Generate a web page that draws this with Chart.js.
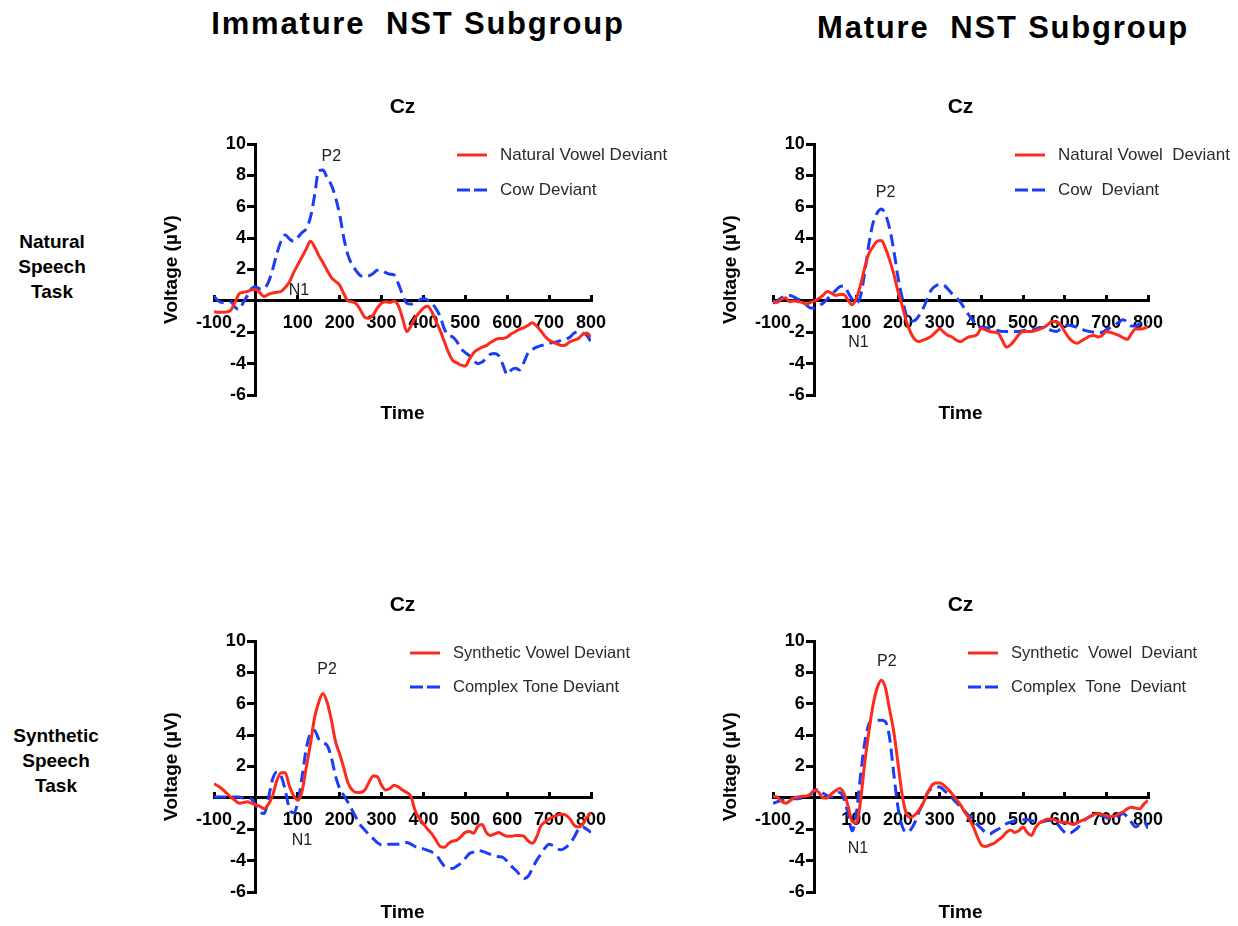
<!DOCTYPE html>
<html>
<head>
<meta charset="utf-8">
<script src="https://cdn.jsdelivr.net/npm/chart.js@4.4.1/dist/chart.umd.min.js"></script>
<style>
body { margin: 0; background: #fff; width: 1238px; height: 926px; position: relative; overflow: hidden;
       font-family: "Liberation Sans", Arial, Helvetica, sans-serif; }
canvas { position: absolute; }
.head { position: absolute; font-weight: bold; font-size: 31px; line-height: 31px; white-space: pre;
        text-align: center; width: 600px; letter-spacing: 1.8px; color: #000; }
.row { position: absolute; font-weight: bold; font-size: 19px; line-height: 25px; text-align: center;
       width: 120px; color: #000; }
</style>
</head>
<body>
<div class="head" style="left:118px;top:8px">Immature  NST Subgroup</div>
<div class="head" style="left:703px;top:12px">Mature  NST Subgroup</div>
<div class="row" style="left:-8px;top:229px">Natural<br>Speech<br>Task</div>
<div class="row" style="left:-4px;top:723px">Synthetic<br>Speech<br>Task</div>

<canvas id="immNat" width="590" height="370" style="left:110px;top:70px"></canvas>
<canvas id="matNat" width="538" height="370" style="left:700px;top:70px"></canvas>
<canvas id="immSyn" width="590" height="356" style="left:110px;top:570px"></canvas>
<canvas id="matSyn" width="538" height="356" style="left:700px;top:570px"></canvas>

<script>
// time base in ms, shared by every trace
var times = [
    -100, -90, -80, -70, -60, -50, -40, -30, -20, -10,
    0, 10, 20, 30, 40, 50, 60, 70, 80, 90,
    100, 110, 120, 130, 140, 150, 160, 170, 180, 190,
    200, 210, 220, 230, 240, 250, 260, 270, 280, 290,
    300, 310, 320, 330, 340, 350, 360, 370, 380, 390,
    400, 410, 420, 430, 440, 450, 460, 470, 480, 490,
    500, 510, 520, 530, 540, 550, 560, 570, 580, 590,
    600, 610, 620, 630, 640, 650, 660, 670, 680, 690,
    700, 710, 720, 730, 740, 750, 760, 770, 780, 790,
    800
];

// Natural speech task, immature subgroup (uV)
var natVowelImm = [
    -0.7, -0.72, -0.72, -0.7, -0.6, -0.1, 0.45, 0.55, 0.6, 0.7,
    0.72, 0.5, 0.28, 0.42, 0.5, 0.55, 0.6, 0.85, 1.2, 1.8,
    2.3, 2.8, 3.3, 3.8, 3.45, 2.9, 2.45, 1.95, 1.5, 1.25,
    1.0, 0.45, 0.0, -0.05, -0.2, -0.6, -1.05, -1.1, -0.9, -0.45,
    -0.15, -0.05, -0.1, 0.0, -0.3, -1.1, -1.95, -1.6, -1.1, -0.75,
    -0.45, -0.35, -0.7, -1.3, -1.9, -2.6, -3.3, -3.8, -3.95, -4.1,
    -4.15, -3.7, -3.3, -3.1, -2.95, -2.85, -2.65, -2.5, -2.4, -2.4,
    -2.3, -2.1, -1.95, -1.8, -1.7, -1.55, -1.4, -1.6, -1.9, -2.25,
    -2.5, -2.65, -2.75, -2.85, -2.8, -2.6, -2.5, -2.4, -2.15, -2.05,
    -2.3
];
var cowImm = [
    0.3, 0.0, -0.1, -0.05, -0.05, -0.4, -0.55, -0.1, 0.35, 0.8,
    0.9, 0.75, 0.8, 1.2, 2.0, 3.0, 3.8, 4.2, 3.95, 3.8,
    4.05, 4.35, 4.6, 5.3, 6.7, 8.3, 8.35, 7.85, 7.4, 6.6,
    5.5, 4.0, 2.9, 2.3, 1.9, 1.6, 1.55, 1.6, 1.75, 1.95,
    1.95, 1.8, 1.7, 1.65, 1.1, 0.4, -0.15, -0.2, -0.1, 0.05,
    0.15, 0.05, -0.15, -0.5, -1.0, -1.8, -2.2, -2.3, -2.6, -3.05,
    -3.3, -3.5, -3.8, -4.0, -3.9, -3.65, -3.4, -3.35, -3.5, -4.1,
    -4.7, -4.4, -4.3, -4.4, -3.9, -3.3, -3.1, -2.95, -2.85, -2.8,
    -2.7, -2.65, -2.6, -2.5, -2.45, -2.3, -2.05, -2.0, -2.05, -2.2,
    -2.6
];

// Natural speech task, mature subgroup
var natVowelMat = [
    0.0, -0.1, 0.1, 0.2, -0.05, 0.0, -0.05, -0.1, -0.2, -0.1,
    0.0, 0.15, 0.35, 0.6, 0.5, 0.35, 0.4, 0.4, 0.05, -0.25,
    0.15, 1.0, 2.1, 3.0, 3.45, 3.8, 3.85, 3.35, 2.6, 1.7,
    0.6, -0.3, -1.3, -2.0, -2.45, -2.6, -2.5, -2.4, -2.25, -2.0,
    -1.8, -2.0, -2.2, -2.3, -2.5, -2.6, -2.45, -2.3, -2.25, -2.15,
    -1.75, -1.85, -1.95, -2.0, -2.05, -2.5, -2.95, -2.8, -2.5, -2.15,
    -1.95, -1.95, -1.95, -1.9, -1.8, -1.7, -1.5, -1.3, -1.35, -1.5,
    -1.95, -2.35, -2.6, -2.7, -2.55, -2.4, -2.25, -2.2, -2.3, -2.2,
    -1.95, -2.0, -2.1, -2.2, -2.35, -2.45, -2.1, -1.8, -1.8, -1.75,
    -1.65
];
var cowMat = [
    -0.15, 0.0, 0.2, 0.3, 0.35, 0.25, 0.1, 0.0, -0.25, -0.45,
    -0.45, -0.3, -0.15, 0.1, 0.4, 0.65, 0.9, 0.95, 0.55, 0.1,
    -0.15, 0.3, 1.8, 3.6, 4.95, 5.6, 5.85, 5.5, 4.6, 3.2,
    1.5, 0.2, -0.9, -1.3, -1.25, -0.95, -0.5, 0.1, 0.7, 0.95,
    1.05, 1.0, 0.75, 0.45, 0.2, -0.1, -0.5, -0.9, -1.25, -1.55,
    -1.7, -1.7, -1.75, -1.8, -1.9, -1.95, -1.95, -1.95, -1.95, -1.95,
    -1.9, -1.85, -1.85, -1.8, -1.7, -1.7, -1.8, -1.9, -1.95, -1.8,
    -1.6, -1.55, -1.6, -1.7, -1.8, -1.9, -1.95, -2.0, -2.05, -2.0,
    -1.85, -1.7, -1.55, -1.35, -1.2, -1.35, -1.6, -1.6, -1.45, -1.35,
    -1.35
];

// Synthetic speech task, immature subgroup
var synVowelImm = [
    0.9, 0.75, 0.55, 0.3, 0.05, -0.15, -0.35, -0.3, -0.25, -0.35,
    -0.45, -0.55, -0.7, -0.4, 0.15, 1.1, 1.6, 1.6, 0.75, 0.15,
    -0.15, 0.4, 1.9, 3.4, 5.1, 6.1, 6.65, 6.1, 5.0, 3.6,
    2.8, 1.9, 0.95, 0.5, 0.35, 0.35, 0.5, 1.0, 1.4, 1.35,
    0.8, 0.5, 0.6, 0.8, 0.7, 0.5, 0.35, 0.1, -0.8, -1.3,
    -1.65, -2.0, -2.3, -2.7, -3.1, -3.15, -2.9, -2.75, -2.7, -2.45,
    -2.2, -2.15, -2.25, -1.8, -1.7, -2.2, -2.4, -2.3, -2.2, -2.35,
    -2.45, -2.45, -2.4, -2.4, -2.45, -2.75, -2.9, -2.5, -1.8, -1.55,
    -1.35, -1.2, -1.1, -1.05, -1.1, -1.35, -1.75, -1.85, -1.7, -1.25,
    -0.95
];
var toneImm = [
    0.05, 0.05, 0.05, 0.05, 0.05, 0.05, 0.05, 0.0, 0.0, -0.1,
    -0.5, -0.9, -1.0, 0.0, 1.2, 1.65, 1.4, 0.5, -0.7, -0.95,
    -0.3, 1.3, 3.1, 4.1, 4.3, 3.75, 3.5, 3.35, 2.6, 1.4,
    0.6, 0.15, -0.3, -0.8, -1.3, -1.75, -2.05, -2.35, -2.6, -2.85,
    -3.0, -3.0, -2.95, -2.95, -2.95, -2.9, -2.85, -2.95, -3.1, -3.2,
    -3.25, -3.35, -3.45, -3.6, -4.0, -4.35, -4.45, -4.5, -4.35, -4.15,
    -3.85, -3.55, -3.45, -3.35, -3.4, -3.5, -3.6, -3.7, -3.75, -3.8,
    -4.05, -4.35, -4.6, -4.9, -5.15, -5.0, -4.5, -4.0, -3.6, -3.2,
    -2.95, -3.05, -3.25, -3.3, -3.15, -2.9, -2.5, -2.0, -1.85, -2.0,
    -2.2
];

// Synthetic speech task, mature subgroup
var synVowelMat = [
    0.1, 0.05, -0.2, -0.35, -0.2, 0.0, 0.05, 0.1, 0.1, 0.25,
    0.5, 0.35, 0.0, 0.0, 0.25, 0.45, 0.6, 0.3, -0.5, -1.5,
    -1.6, -0.2, 2.2, 4.2, 5.9, 7.0, 7.5, 7.0, 5.6, 4.2,
    2.2, 0.2, -1.0, -1.25, -1.1, -0.8, -0.35, 0.25, 0.75, 0.95,
    0.95, 0.8, 0.55, 0.25, -0.1, -0.45, -0.9, -1.3, -1.8, -2.45,
    -3.0, -3.1, -3.0, -2.9, -2.7, -2.5, -2.2, -2.05, -2.2, -2.1,
    -1.85, -2.2, -2.4, -1.9, -1.6, -1.45, -1.35, -1.35, -1.45, -1.55,
    -1.55, -1.6, -1.7, -1.6, -1.45, -1.35, -1.2, -1.05, -1.0, -1.05,
    -1.15, -1.2, -1.15, -1.0, -0.9, -0.7, -0.6, -0.65, -0.7, -0.4,
    -0.15
];
var toneMat = [
    -0.35, -0.25, -0.15, -0.1, -0.05, -0.05, -0.05, 0.0, 0.1, 0.2,
    0.45, 0.55, 0.3, 0.15, 0.05, 0.2, 0.35, -0.05, -1.0, -2.1,
    -1.0, 1.4, 3.5, 4.7, 4.95, 4.95, 4.95, 4.85, 3.8, 1.5,
    -0.6, -1.8, -2.2, -2.05, -1.6, -0.9, -0.35, 0.3, 0.6, 0.7,
    0.7, 0.5, 0.25, 0.0, -0.3, -0.55, -0.85, -1.15, -1.4, -1.7,
    -1.95, -2.2, -2.3, -2.15, -2.0, -1.85, -1.65, -1.55, -1.45, -1.4,
    -1.4, -1.4, -1.45, -1.5, -1.55, -1.5, -1.45, -1.45, -1.6, -1.9,
    -2.2, -2.3, -2.15, -1.95, -1.65, -1.35, -1.2, -1.1, -1.1, -1.15,
    -1.25, -1.35, -1.3, -1.15, -1.0, -1.2, -1.55, -1.85, -1.7, -1.5,
    -1.95
];

var FONT = '"Liberation Sans", Arial, Helvetica, sans-serif';
var RED = '#fd2b1c';
var BLUE = '#1b3df6';

Chart.defaults.font.family = FONT;

function toPoints(values) {
    var i, pts = [];
    for (i = 0; i < times.length; i += 1) {
        pts.push({x: times[i], y: values[i]});
    }
    return pts;
}

// channel title, axis titles, N1/P2 marks and the line legend
function panelText(cfg) {
    return {
        id: 'panelText',
        afterDraw: function (chart) {
            var ctx = chart.ctx,
                a = chart.chartArea,
                xs = chart.scales.x,
                ys = chart.scales.y,
                cx = (a.left + a.right) / 2,
                i, p, ds, lx, ly;

            ctx.save();
            ctx.fillStyle = '#000';
            ctx.textAlign = 'center';
            ctx.textBaseline = 'middle';

            ctx.font = 'bold 21px ' + FONT;
            ctx.fillText(cfg.title, cx, a.top - cfg.titleGap);

            ctx.font = 'bold 19px ' + FONT;
            ctx.fillText('Time', cx, a.bottom + cfg.timeGap);

            ctx.save();
            ctx.translate(a.left - 42, (a.top + a.bottom) / 2);
            ctx.rotate(-Math.PI / 2);
            ctx.fillText('Voltage (\u00b5V)', 0, 0);
            ctx.restore();

            ctx.font = '16px ' + FONT;
            ctx.fillStyle = '#222';
            for (i = 0; i < cfg.marks.length; i += 1) {
                p = cfg.marks[i];
                ctx.fillText(p[0], xs.getPixelForValue(p[1]), ys.getPixelForValue(p[2]));
            }

            ctx.textAlign = 'left';
            ctx.font = cfg.legendSize + 'px ' + FONT;
            for (i = 0; i < chart.data.datasets.length; i += 1) {
                ds = chart.data.datasets[i];
                lx = a.left + cfg.legendX;
                ly = a.top + cfg.legendY[i];
                ctx.beginPath();
                ctx.setLineDash(i === 0 ? [] : [13, 4]);
                ctx.strokeStyle = ds.borderColor;
                ctx.lineWidth = 3;
                ctx.moveTo(lx, ly);
                ctx.lineTo(lx + 30, ly);
                ctx.stroke();
                ctx.setLineDash([]);
                ctx.fillStyle = '#2a2a2a';
                ctx.fillText(ds.label, lx + 43, ly);
            }
            ctx.restore();
        }
    };
}

// the zero tick sits on the crossing axis, so it carries no label
function xTickLabel(v) {
    return v === 0 ? '' : String(v);
}

// y labels are right-aligned on the axis line; trailing spaces clear the tick marks
function yTickLabel(v) {
    return v === 0 ? '' : v + '  ';
}

function makePanel(id, first, second, cfg) {
    var tickFont = {size: 18, weight: 'bold'};
    return new Chart(document.getElementById(id), {
        type: 'line',
        data: {
            datasets: [{
                label: cfg.labels[0],
                data: toPoints(first),
                borderColor: RED,
                borderWidth: 3,
                pointRadius: 0,
                cubicInterpolationMode: 'monotone'
            }, {
                label: cfg.labels[1],
                data: toPoints(second),
                borderColor: BLUE,
                borderWidth: 3,
                borderDash: [12, 6],
                pointRadius: 0,
                cubicInterpolationMode: 'monotone'
            }]
        },
        options: {
            responsive: false,
            animation: false,
            layout: {padding: cfg.padding},
            plugins: {legend: {display: false}, tooltip: {enabled: false}},
            scales: {
                x: {
                    type: 'linear',
                    min: -100,
                    max: 800,
                    position: {y: 0},
                    ticks: {stepSize: 100, autoSkip: false, maxRotation: 0, padding: 18,
                            color: '#000', font: tickFont, callback: xTickLabel},
                    grid: {drawOnChartArea: false, color: '#000', lineWidth: 3, tickLength: -7},
                    border: {color: '#000', width: 3}
                },
                y: {
                    type: 'linear',
                    min: -6,
                    max: 10,
                    position: {x: 0},
                    ticks: {stepSize: 2, autoSkip: false, color: '#000', font: tickFont, callback: yTickLabel},
                    grid: {drawOnChartArea: false, color: '#000', lineWidth: 3, tickLength: 7},
                    border: {color: '#000', width: 3}
                }
            }
        },
        plugins: [panelText(cfg)]
    });
}

makePanel('immNat', natVowelImm, cowImm, {
    title: 'Cz', titleGap: 37, timeGap: 19,
    labels: ['Natural Vowel Deviant', 'Cow Deviant'],
    legendX: 243, legendY: [11, 46], legendSize: 17,
    marks: [['P2', 180, 9.2], ['N1', 103, 0.65]],
    padding: {left: 104, right: 109, top: 74, bottom: 45}
});
makePanel('matNat', natVowelMat, cowMat, {
    title: 'Cz', titleGap: 37, timeGap: 19,
    labels: ['Natural Vowel  Deviant', 'Cow  Deviant'],
    legendX: 242, legendY: [11, 46], legendSize: 17,
    marks: [['P2', 170, 6.9], ['N1', 105, -2.65]],
    padding: {left: 73, right: 90, top: 74, bottom: 45}
});
makePanel('immSyn', synVowelImm, toneImm, {
    title: 'Cz', titleGap: 36, timeGap: 21,
    labels: ['Synthetic Vowel Deviant', 'Complex Tone Deviant'],
    legendX: 196, legendY: [12, 46], legendSize: 16.5,
    marks: [['P2', 170, 8.15], ['N1', 110, -2.75]],
    padding: {left: 104, right: 109, top: 71, bottom: 34}
});
makePanel('matSyn', synVowelMat, toneMat, {
    title: 'Cz', titleGap: 36, timeGap: 21,
    labels: ['Synthetic  Vowel  Deviant', 'Complex  Tone  Deviant'],
    legendX: 195, legendY: [12, 46], legendSize: 16.5,
    marks: [['P2', 173, 8.7], ['N1', 104, -3.25]],
    padding: {left: 73, right: 90, top: 71, bottom: 34}
});
</script>
</body>
</html>
